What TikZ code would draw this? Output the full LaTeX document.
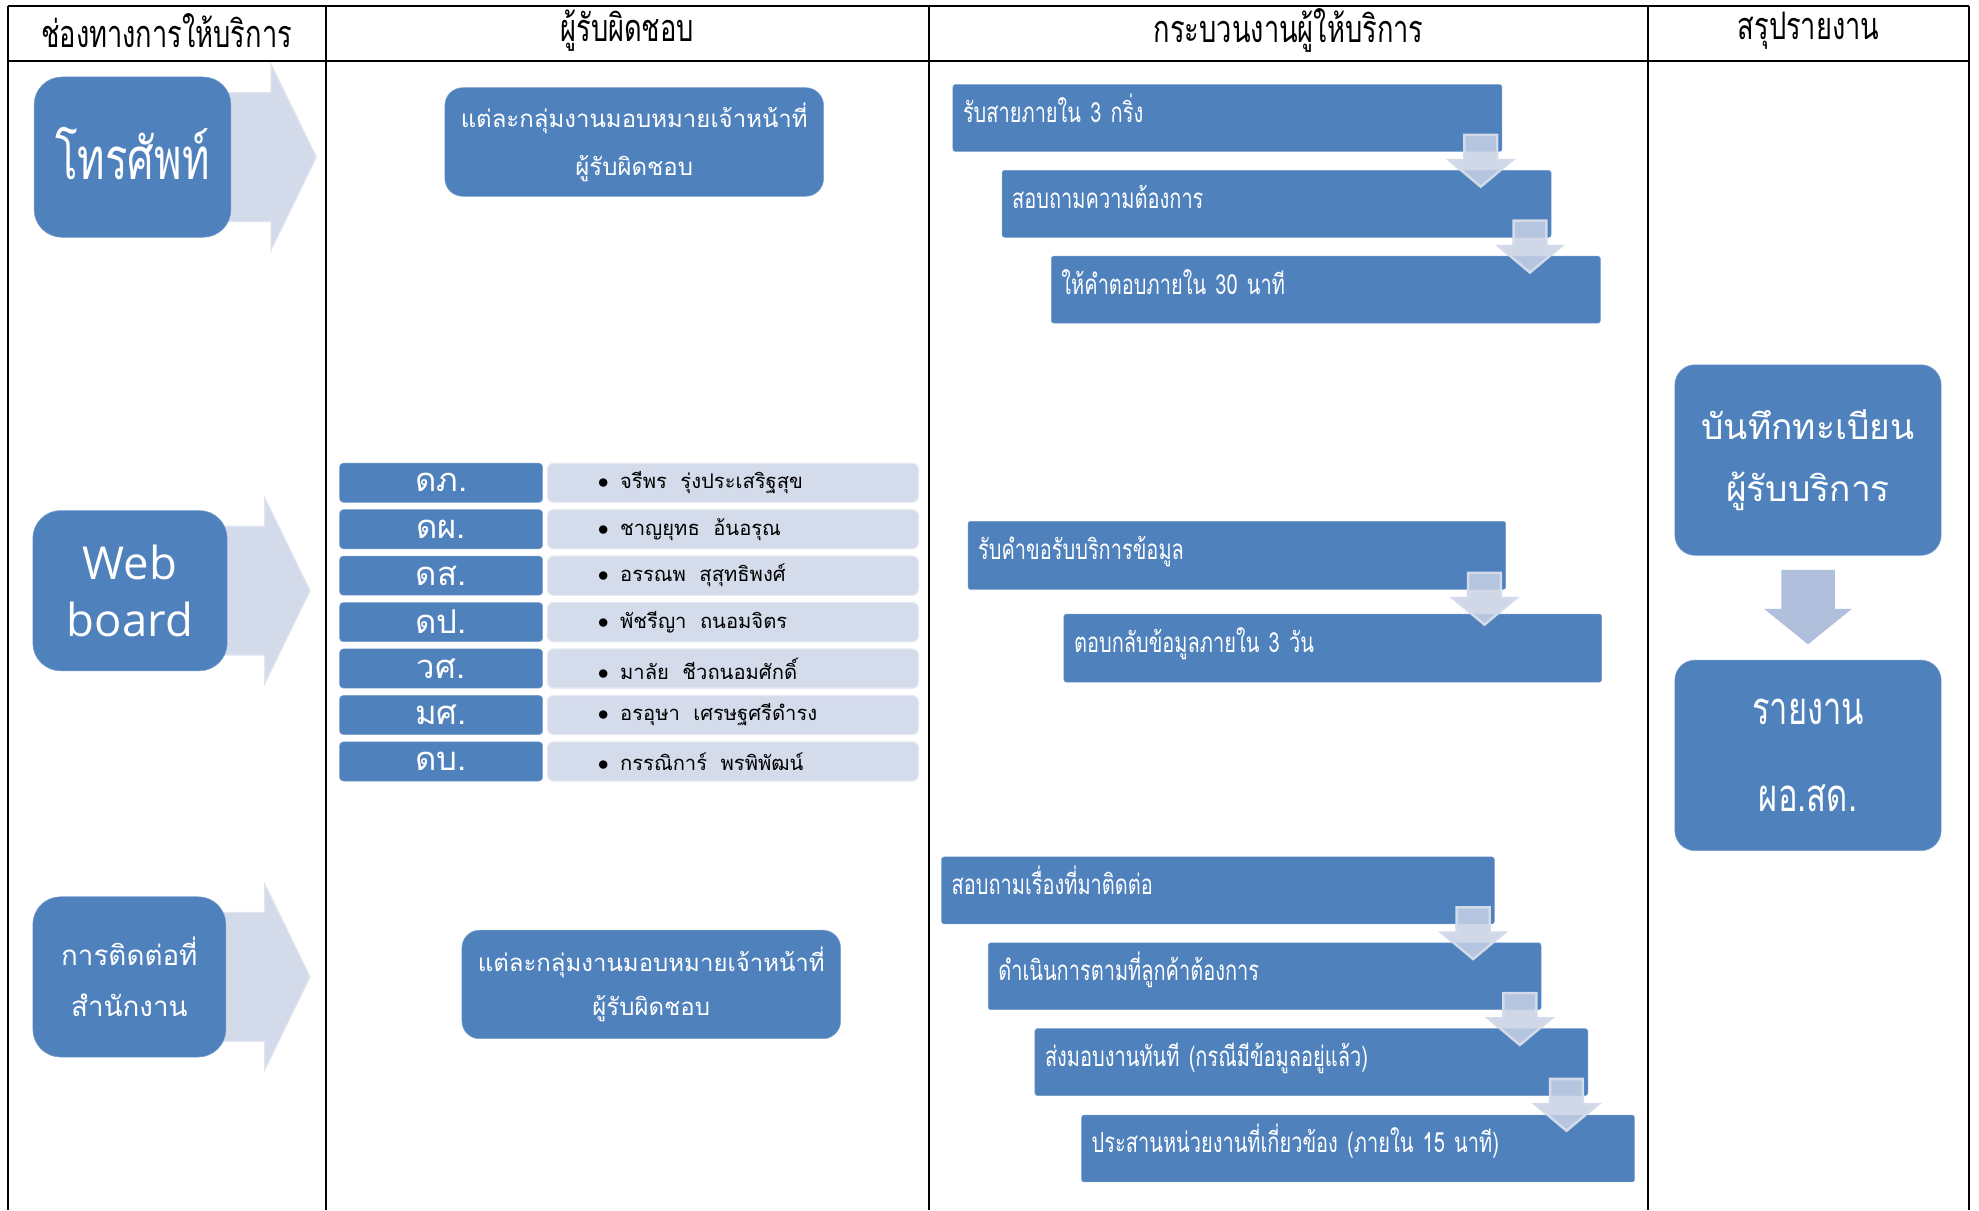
\documentclass[tikz,border=0pt]{standalone}
\usepackage{fontspec}
\setmainfont[Script=Thai]{Loma}
\newfontfamily\thainarrow[Script=Thai,FakeStretch=0.72]{Loma}
\newfontfamily\websans{Open Sans}
\usetikzlibrary{positioning,shapes.arrows,backgrounds,calc}

\definecolor{boxblue}{RGB}{79,129,189}
\definecolor{palearrow}{RGB}{211,218,233}
\definecolor{palerow}{RGB}{212,219,234}
\definecolor{downpale}{RGB}{200,210,229}
\definecolor{summarrow}{RGB}{176,192,220}

\tikzset{
  tableline/.style={line width=1.6pt},
  headtext/.style={font={\thainarrow\fontsize{30}{34}\selectfont}},
  chanbox/.style={rounded corners=22pt, fill=boxblue, draw=boxblue!75!white, text=white,
    minimum width=156pt, minimum height=127pt, align=center, inner sep=0pt},
  chanarrow/.style={single arrow, fill=palearrow, draw=palearrow!70!white, line width=1pt,
    minimum height=100pt, minimum width=146pt, single arrow head extend=22.5pt,
    single arrow tip angle=128, inner xsep=0pt, inner ysep=50.5pt, anchor=tip},
  dutybox/.style={rounded corners=14pt, fill=boxblue, draw=boxblue!75!white, text=white,
    minimum width=300pt, minimum height=86pt, align=center,
    font={\fontsize{19}{35}\selectfont}},
  unitbox/.style={rounded corners=3pt, fill=boxblue, draw=boxblue!75!white, text=white,
    minimum width=161pt, minimum height=31pt, inner sep=0pt,
    font={\fontsize{26}{28}\selectfont}},
  namebox/.style={rounded corners=5pt, fill=palerow, draw=palerow!60!white, line width=1pt,
    minimum height=31pt, text width=214pt, inner xsep=40pt, inner ysep=0pt, align=left,
    font={\fontsize{16}{18}\selectfont}},
  stepbox/.style={rounded corners=2pt, fill=boxblue, draw=boxblue!80!white, text=white,
    text width=#1, minimum height=53pt, inner xsep=8pt, text height=15pt, text depth=8pt,
    align=left, font={\thainarrow\fontsize{22}{24}\selectfont}},
  stepdown/.style={single arrow, shape border rotate=270, fill=downpale, fill opacity=0.85,
    draw=palearrow, line width=2pt, minimum height=41pt, minimum width=48pt,
    single arrow head extend=12pt, single arrow tip angle=100, inner xsep=12pt, inner ysep=0pt,
    anchor=tip},
  sumbox/.style={rounded corners=16pt, fill=boxblue, draw=boxblue!75!white, text=white,
    minimum width=211pt, minimum height=151pt, align=center},
  sumdown/.style={single arrow, shape border rotate=270, fill=summarrow,
    minimum height=59pt, minimum width=69pt, single arrow head extend=13.5pt,
    single arrow tip angle=102, inner xsep=21pt, inner ysep=0pt, anchor=tip}
}

\begin{document}
\begin{tikzpicture}[x=1pt,y=-1pt]
  \begin{scope}[on background layer]
    \fill[white] (0,0) rectangle (1568,959);
  \end{scope}
  \useasboundingbox (0,0) rectangle (1568,959);

  % table
  \draw[tableline] (6,5) -- (1560,5);
  \draw[tableline] (6,48) -- (1560,48);
  \foreach \x in {6,258,736,1306,1560}
    \draw[tableline] (\x,5) -- (\x,959);

  \node[headtext] (headchan) at (132,24) {ช่องทางการให้บริการ};
  \node[headtext] (headduty) at (497,24) {ผู้รับผิดชอบ};
  \node[headtext] (headproc) at (1021,24) {กระบวนงานผู้ให้บริการ};
  \node[headtext] (headsum)  at (1433,24) {สรุปรายงาน};

  % channels
  \node[chanbox, font={\thainarrow\fontsize{46}{48}\selectfont}] (phone) at (105,124.5) {\raisebox{6pt}{โทรศัพท์}};
  \node[chanbox, minimum width=154pt, font={\websans\fontsize{36}{45}\selectfont}] (web) at (103,468) {Web\\board};
  \node[chanbox, minimum width=153pt, font={\fontsize{22}{40}\selectfont}] (office) at (102.5,774) {การติดต่อที่\\สำนักงาน};
  \begin{scope}[on background layer]
    \node[chanarrow] (phonearr)  at ($(phone.east)+(68,0)$) {};
    \node[chanarrow] (webarr)    at ($(web.east)+(66,0)$) {};
    \node[chanarrow] (officearr) at ($(office.east)+(67,0)$) {};
  \end{scope}

  % responsible
  \node[dutybox] (dutytop) at (502.5,112.5) {\raisebox{3pt}{แต่ละกลุ่มงานมอบหมายเจ้าหน้าที่}\\ผู้รับผิดชอบ};
  \node[dutybox] (dutybot) at (516,780) {แต่ละกลุ่มงานมอบหมายเจ้าหน้าที่\\ผู้รับผิดชอบ};
  \foreach \abbr/\who [count=\i] in {ดภ./จรีพร~~รุ่งประเสริฐสุข, ดผ./ชาญยุทธ~~อ้นอรุณ,
      ดส./อรรณพ~~สุสุทธิพงศ์, ดป./พัชรีญา~~ถนอมจิตร, วศ./มาลัย~~ชีวถนอมศักดิ์,
      มศ./อรอุษา~~เศรษฐศรีดำรง, ดบ./กรรณิการ์~~พรพิพัฒน์} {
    \node[unitbox] (unit\i) at (349.5,{382.5+36.8*(\i-1)}) {\abbr};
    \node[namebox, right=3pt of unit\i] (member\i) {$\bullet$\hspace{9pt}\who};
  }

  % process
  \begin{scope}[on grid, node distance=68pt and 39pt]
    \node[stepbox=419pt] (recv) at (972.5,93.5) {รับสายภายใน 3 กริ่ง};
    \node[stepbox=419pt] (ask) [below right=of recv] {สอบถามความต้องการ};
    \node[stepbox=419pt] (reply) [below right=of ask] {ให้คำตอบภายใน 30 นาที};
    \node[stepbox=410pt, minimum height=54pt] (request) at (980,440) {รับคำขอรับบริการข้อมูล};
    \node[stepbox=410pt, minimum height=54pt] (inform) [below right=73.5pt and 76pt of request] {ตอบกลับข้อมูลภายใน 3 วัน};
    \node[stepbox=422pt] (enquire) at (965,705.5) {สอบถามเรื่องที่มาติดต่อ};
    \node[stepbox=422pt] (act) [below right=68pt and 37pt of enquire] {ดำเนินการตามที่ลูกค้าต้องการ};
    \node[stepbox=422pt] (deliver) [below right=68pt and 37pt of act] {ส่งมอบงานทันที (กรณีมีข้อมูลอยู่แล้ว)};
    \node[stepbox=422pt] (coord) [below right=68.5pt and 37pt of deliver] {ประสานหน่วยงานที่เกี่ยวข้อง (ภายใน 15 นาที)};
  \end{scope}
  \foreach \from in {recv,ask,request,enquire,act,deliver}
    \node[stepdown] (\from down) at ($(\from.south east)+(-17,29)$) {};

  % summary
  \node[sumbox, font={\fontsize{28}{49}\selectfont}] (record) at (1432.5,364.5) {บันทึกทะเบียน\\ผู้รับบริการ};
  \node[sumbox, font={\thainarrow\fontsize{36}{69}\selectfont}] (report) at (1432.5,598.5) {รายงาน\\ผอ.สด.};
  \node[sumdown] (recorddown) at ($(report.north)+(0,-12)$) {};
\end{tikzpicture}
\end{document}
